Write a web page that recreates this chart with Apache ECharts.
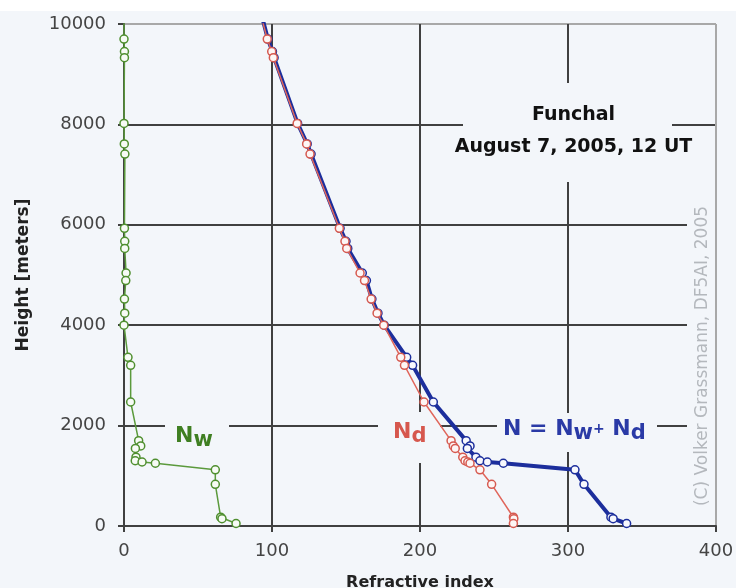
<!DOCTYPE html>
<html><head><meta charset="utf-8">
<script src="https://cdn.jsdelivr.net/npm/echarts@6/dist/echarts.min.js"></script>
<style>html,body{margin:0;padding:0;background:#fff}#c{width:736px;height:588px}</style>
</head><body><div id="c"></div>
<script>
// Heights (m) of the sounding levels, top to bottom (first level lies above the plotted range)
const heights = [10400, 9700, 9450, 9330, 8020, 7610, 7410, 5930, 5670, 5530, 5040, 4890, 4520, 4240, 4000, 3360, 3200, 2470, 1700, 1595, 1545, 1370, 1300, 1275, 1250, 1120, 830, 175, 145, 50];
// Wet term N_w
const nwValues = [0, 0, 0.3, 0.3, 0, 0.2, 0.6, 0.3, 0.5, 0.5, 1.4, 1.2, 0.3, 0.5, 0, 2.7, 4.5, 4.5, 9.9, 11.3, 7.7, 8.1, 7.6, 12.2, 21.2, 61.7, 61.7, 65.3, 66.2, 75.7];
// Dry term N_d
const ndValues = [90.5, 96.8, 99.8, 100.9, 117, 123.4, 125.7, 145.5, 149.3, 150.5, 159.5, 162.5, 167, 171, 175.5, 187, 189.5, 202.7, 221, 222.5, 223.8, 228.9, 230.4, 232.3, 233.8, 240.5, 248.4, 263.1, 263.4, 263.1];
// Total N = N_w + N_d
const nValues = [91, 97.2, 100.3, 101.4, 117.3, 123.8, 126.4, 146, 150, 151.2, 161, 163.8, 167.5, 171.6, 175.8, 191, 195, 209, 231.2, 233.8, 232, 237.8, 240.5, 245.5, 256.3, 304.7, 310.8, 329, 330.5, 339.6];

const xRange = [0, 400, 100];
const yRange = [0, 10000, 2000];
const xName = 'Refractive index';
const yName = 'Height [meters]';
const titleLines = ['Funchal', 'August 7, 2005, 12 UT'];
const credit = '(C) Volker Grassmann, DF5AI, 2005';

const BG = '#f3f6fa';
const GRID = '#404040';
const EDGE = '#a8a8a8';
const FONT = '"DejaVu Sans", Verdana, sans-serif';

function pairs(xs) { return xs.map((v, i) => [v, heights[i]]); }

const chart = echarts.init(document.getElementById('c'), null, { renderer: 'canvas' });

const sub = (size, color) => ({ fontFamily: FONT, fontWeight: 'bold', fontSize: size, fill: color, lineHeight: 12, verticalAlign: 'bottom' });
const big = (size, color) => ({ fontFamily: FONT, fontWeight: 'bold', fontSize: size, fill: color, lineHeight: 30, verticalAlign: 'middle' });

const option = {
  animation: false,
  backgroundColor: BG,
  grid: { left: 124, right: 20, top: 24, bottom: 62, containLabel: false, outerBoundsMode: 'none' },
  xAxis: {
    type: 'value', min: xRange[0], max: xRange[1], interval: xRange[2],
    name: xName, nameLocation: 'middle', nameGap: 49,
    nameTextStyle: { fontFamily: FONT, fontWeight: 'bold', fontSize: 16, color: '#222' },
    axisLine: { show: true, onZero: false, lineStyle: { color: GRID, width: 2 } },
    axisTick: { show: true, length: 6, lineStyle: { color: GRID, width: 2 } },
    axisLabel: { fontFamily: FONT, fontSize: 18, color: '#444', margin: 16, formatter: v => String(v) },
    splitLine: { show: true, lineStyle: { color: [GRID, GRID, GRID, GRID, EDGE], width: 2 } }
  },
  yAxis: {
    type: 'value', min: yRange[0], max: yRange[1], interval: yRange[2],
    name: yName, nameLocation: 'middle', nameGap: 92,
    nameTextStyle: { fontFamily: FONT, fontWeight: 'bold', fontSize: 17, color: '#222' },
    axisLine: { show: true, onZero: false, lineStyle: { color: GRID, width: 2 } },
    axisTick: { show: true, length: 6, lineStyle: { color: GRID, width: 2 } },
    axisLabel: { fontFamily: FONT, fontSize: 18, color: '#444', margin: 18, formatter: v => String(v) },
    splitLine: { show: true, lineStyle: { color: [GRID, GRID, GRID, GRID, GRID, EDGE], width: 2 } }
  },
  series: [
    {
      name: 'Nw', type: 'line', data: pairs(nwValues), clip: true, z: 3,
      symbol: 'circle', symbolSize: 8,
      lineStyle: { color: '#5b9a3c', width: 1.5 },
      itemStyle: { color: '#f7fbf5', borderColor: '#4f8f2f', borderWidth: 1.5 },
      emphasis: { disabled: true }
    },
    {
      name: 'N', type: 'line', data: pairs(nValues), clip: true, z: 3,
      symbol: 'circle', symbolSize: 8,
      lineStyle: { color: '#1c2e9c', width: 4 },
      itemStyle: { color: '#f7f8fd', borderColor: '#1c2e9c', borderWidth: 1.5 },
      emphasis: { disabled: true }
    },
    {
      name: 'Nd', type: 'line', data: pairs(ndValues), clip: true, z: 4,
      symbol: 'circle', symbolSize: 8,
      lineStyle: { color: '#e0665b', width: 1.5 },
      itemStyle: { color: '#fdf6f5', borderColor: '#d65a50', borderWidth: 1.5 },
      emphasis: { disabled: true }
    }
  ],
  graphic: [
    { type: 'rect', z: 1, shape: { x: 0, y: 0, width: 736, height: 11 }, style: { fill: '#ffffff' } },
    { type: 'rect', z: 1, shape: { x: 463, y: 83, width: 209, height: 99 }, style: { fill: BG } },
    { type: 'text', z: 1, x: 573.5, y: 115, style: { text: titleLines[0], font: 'bold 19px ' + FONT, fill: '#111', align: 'center', textAlign: 'center', verticalAlign: 'middle', textVerticalAlign: 'middle' } },
    { type: 'text', z: 1, x: 573.5, y: 147, style: { text: titleLines[1], font: 'bold 19px ' + FONT, fill: '#111', align: 'center', textAlign: 'center', verticalAlign: 'middle', textVerticalAlign: 'middle' } },
    { type: 'rect', z: 1, shape: { x: 165, y: 415, width: 64, height: 40 }, style: { fill: BG } },
    { type: 'text', z: 1, x: 175, y: 421, style: { text: '{a|N}{s|w}', align: 'left', textAlign: 'left', verticalAlign: 'top', textVerticalAlign: 'top', rich: { a: big(22, '#3f7f22'), s: sub(21, '#3f7f22') } } },
    { type: 'rect', z: 1, shape: { x: 378, y: 412, width: 62, height: 51 }, style: { fill: BG } },
    { type: 'text', z: 1, x: 393, y: 417, style: { text: '{a|N}{s|d}', align: 'left', textAlign: 'left', verticalAlign: 'top', textVerticalAlign: 'top', rich: { a: big(22, '#d6574d'), s: sub(21, '#d6574d') } } },
    { type: 'rect', z: 1, shape: { x: 497, y: 413, width: 160, height: 39 }, style: { fill: BG } },
    { type: 'text', z: 1, x: 503, y: 414, style: { text: '{a|N = N}{s|w}{p|+}{a| N}{s|d}', align: 'left', textAlign: 'left', verticalAlign: 'top', textVerticalAlign: 'top', rich: { a: big(22, '#2a3aa6'), s: sub(21, '#2a3aa6'), p: { fontFamily: FONT, fontWeight: 'bold', fontSize: 14, fill: '#2a3aa6', lineHeight: 30, verticalAlign: 'middle' } } } },
    { type: 'rect', z: 1, shape: { x: 687, y: 188, width: 28, height: 334 }, style: { fill: BG } },
    { type: 'text', z: 1, x: 703, y: 356, rotation: Math.PI / 2, style: { text: credit, font: '17px ' + FONT, fill: '#b4b8bd', align: 'center', textAlign: 'center', verticalAlign: 'middle', textVerticalAlign: 'middle' } }
  ]
};
chart.setOption(option);
</script>
</body></html>
